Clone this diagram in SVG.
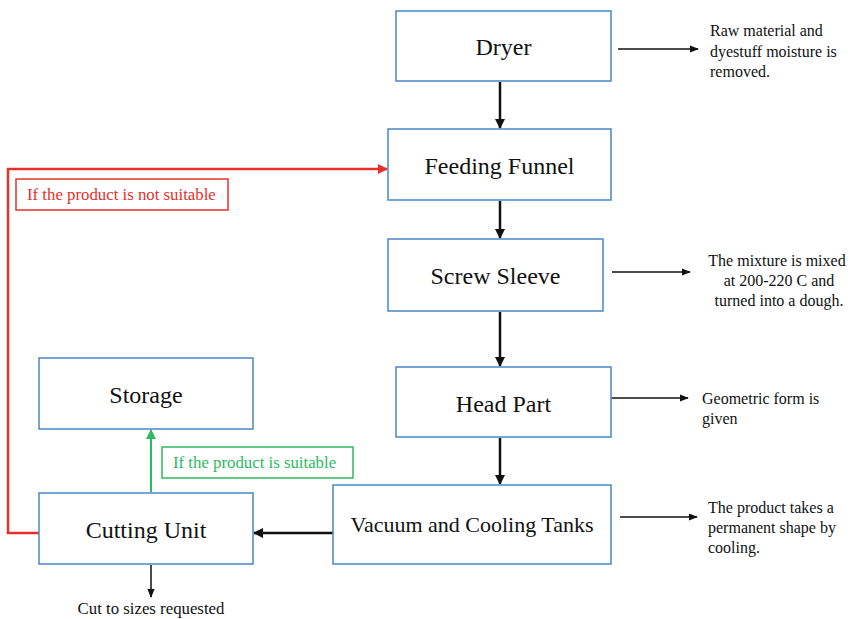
<svg xmlns="http://www.w3.org/2000/svg" width="858" height="619" viewBox="0 0 858 619">
<style>
.box{fill:#fff;stroke:#4a86c8;stroke-width:1.5}
.t{font-family:"Liberation Serif","Times New Roman",serif;font-size:24px;fill:#111;text-anchor:middle}
.s{font-family:"Liberation Serif","Times New Roman",serif;font-size:16px;fill:#111}
.l{font-size:16.8px}
.main{stroke:#111;stroke-width:2.5;fill:none}
.side{stroke:#111;stroke-width:1.5;fill:none}
</style>
<defs>
<marker id="ab" viewBox="0 0 10 10" refX="9" refY="5" markerWidth="4" markerHeight="4" orient="auto" markerUnits="strokeWidth"><path d="M0,0 L10,5 L0,10 z" fill="#111"/></marker>
<marker id="as" viewBox="0 0 10 10" refX="9" refY="5" markerWidth="6" markerHeight="6" orient="auto" markerUnits="strokeWidth"><path d="M0,1 L10,5 L0,9 z" fill="#111"/></marker>
<marker id="ar" viewBox="0 0 10 10" refX="9" refY="5" markerWidth="4" markerHeight="4" orient="auto" markerUnits="strokeWidth"><path d="M0,0 L10,5 L0,10 z" fill="#e8302a"/></marker>
<marker id="ag" viewBox="0 0 10 10" refX="9" refY="5" markerWidth="5" markerHeight="5" orient="auto" markerUnits="strokeWidth"><path d="M0,0 L10,5 L0,10 z" fill="#2fb860"/></marker>
</defs>
<g id="connectors">
<line class="main" x1="500" y1="82" x2="500" y2="128" marker-end="url(#ab)"/>
<line class="main" x1="500" y1="201" x2="500" y2="238" marker-end="url(#ab)"/>
<line class="main" x1="500" y1="312" x2="500" y2="366" marker-end="url(#ab)"/>
<line class="main" x1="500" y1="438" x2="500" y2="484" marker-end="url(#ab)"/>
<line class="main" x1="333" y1="533" x2="254" y2="533" marker-end="url(#ab)"/>
<line class="side" x1="618" y1="49" x2="698" y2="49" marker-end="url(#as)"/>
<line class="side" x1="612" y1="272" x2="690" y2="272" marker-end="url(#as)"/>
<line class="side" x1="611" y1="398" x2="688" y2="398" marker-end="url(#as)"/>
<line class="side" x1="620" y1="517" x2="697" y2="517" marker-end="url(#as)"/>
<line class="side" x1="151" y1="565" x2="151" y2="597" marker-end="url(#as)"/>
<polyline points="39,533 8,533 8,169 387,169" fill="none" stroke="#e8302a" stroke-width="2.5" marker-end="url(#ar)"/>
<line x1="151" y1="492" x2="151" y2="430" stroke="#2fb860" stroke-width="2" marker-end="url(#ag)"/>
</g>
<g id="dryer"><rect class="box" x="396" y="11" width="215" height="70"/><text class="t" x="503.5" y="55">Dryer</text></g>
<g id="feeding-funnel"><rect class="box" x="388" y="129" width="223" height="71"/><text class="t" x="499.5" y="174">Feeding Funnel</text></g>
<g id="screw-sleeve"><rect class="box" x="388" y="239" width="215" height="72"/><text class="t" x="495.5" y="284">Screw Sleeve</text></g>
<g id="head-part"><rect class="box" x="396" y="367" width="215" height="70"/><text class="t" x="503.5" y="412">Head Part</text></g>
<g id="vacuum"><rect class="box" x="333" y="485" width="278" height="79"/><text class="t" x="472" y="532" style="font-size:22px">Vacuum and Cooling Tanks</text></g>
<g id="storage"><rect class="box" x="39" y="358" width="214" height="71"/><text class="t" x="146" y="403">Storage</text></g>
<g id="cutting-unit"><rect class="box" x="39" y="493" width="214" height="71"/><text class="t" x="146" y="538">Cutting Unit</text></g>
<g id="label-not-suitable"><rect x="16" y="179" width="212" height="31" fill="#fff" stroke="#e8302a" stroke-width="1.5"/><text class="s l" x="27" y="200" style="fill:#e8302a">If the product is not suitable</text></g>
<g id="label-suitable"><rect x="162" y="447" width="191" height="31" fill="#fff" stroke="#2fb860" stroke-width="1.5"/><text class="s l" x="173" y="468" style="fill:#2fb860">If the product is suitable</text></g>
<g id="note-dryer"><text class="s" x="710" y="36">Raw material  and</text><text class="s" x="710" y="57">dyestuff moisture is</text><text class="s" x="710" y="77">removed.</text></g>
<g id="note-screw"><text class="s" x="777" y="266" text-anchor="middle">The mixture is mixed</text><text class="s" x="779" y="286" text-anchor="middle">at 200-220  C and</text><text class="s" x="779" y="306" text-anchor="middle">turned into a dough.</text></g>
<g id="note-head"><text class="s" x="702" y="404">Geometric form is</text><text class="s" x="702" y="424">given</text></g>
<g id="note-vacuum"><text class="s" x="708" y="513">The product takes a</text><text class="s" x="708" y="533">permanent shape by</text><text class="s" x="708" y="553">cooling.</text></g>
<g id="note-cut"><text class="s l" x="151" y="614" text-anchor="middle">Cut to sizes requested</text></g>
</svg>
